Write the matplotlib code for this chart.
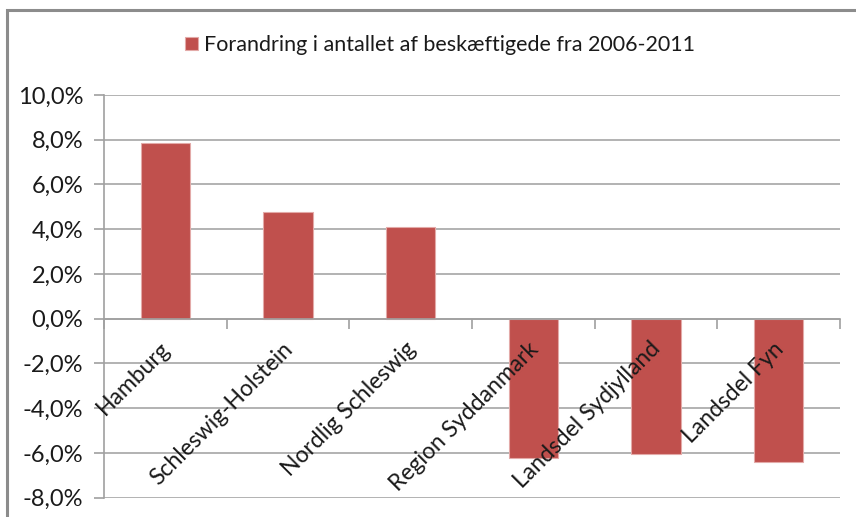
import matplotlib
matplotlib.use("Agg")
import matplotlib.pyplot as plt
from matplotlib.patches import Rectangle
from matplotlib.ticker import FuncFormatter, FixedLocator
from matplotlib.transforms import ScaledTranslation
import numpy as np

categories = ["Hamburg", "Schleswig-Holstein", "Nordlig Schleswig",
              "Region Syddanmark", "Landsdel Sydjylland", "Landsdel Fyn"]
values = [7.87, 4.77, 4.1, -6.22, -6.05, -6.42]
series_name = "Forandring i antallet af beskæftigede fra 2006-2011"
yticks = [-8, -6, -4, -2, 0, 2, 4, 6, 8, 10]

plt.rcParams['font.family'] = ['Lato', 'DejaVu Sans']

W, H = 856, 517
fig = plt.figure(figsize=(W / 100, H / 100), dpi=100)
fig.patch.set_facecolor("white")

# outer chart frame (partially visible)
fig.add_artist(Rectangle((7 / W, -0.1), 1.2, 1 - 10 / H + 0.1,
                         transform=fig.transFigure, fill=False,
                         edgecolor="#8c8c8c", linewidth=2.2))

ax = fig.add_axes([104 / W, 1 - 497.7 / H, (840 - 104) / W, (497.7 - 95) / H])
x = np.arange(len(categories))
ax.bar(x, values, width=0.4, color="#C0504D", edgecolor="#e3aaa8",
       linewidth=0.8, zorder=3, label=series_name)

ax.set_xlim(-0.5, len(categories) - 0.5)
ax.set_ylim(min(yticks), max(yticks))
ax.set_yticks(yticks)
ax.yaxis.set_major_formatter(FuncFormatter(lambda v, p: f"{v:.1f}%".replace(".", ",")))
ax.grid(axis="y", color="#a6a6a6", linewidth=1.2)
ax.set_axisbelow(True)
ax.xaxis.set_zorder(5)   # category labels drawn over the bars

for s in ["top", "right"]:
    ax.spines[s].set_visible(False)
ax.spines["left"].set_color("#a0a0a0")
ax.spines["left"].set_linewidth(1.2)
ax.spines["bottom"].set_position(("data", 0))
ax.spines["bottom"].set_color("#a0a0a0")
ax.spines["bottom"].set_linewidth(1.2)
ax.spines["bottom"].set_zorder(4)

ax.tick_params(axis="y", length=7, width=1.2, color="#a0a0a0",
               labelsize=17, pad=8, labelcolor="#1a1a1a")
ax.set_xticks(x)
ax.set_xticklabels(categories, rotation=45, ha="right", va="top",
                   rotation_mode="anchor", fontsize=16.5, color="#1a1a1a")
ax.tick_params(axis="x", which="major", length=0, pad=14)
shift = ScaledTranslation(-6 / 100, 0, fig.dpi_scale_trans)
for lab in ax.get_xticklabels():
    lab.set_transform(lab.get_transform() + shift)
ax.xaxis.set_minor_locator(FixedLocator(np.arange(-0.5, len(categories), 1.0)))
ax.tick_params(axis="x", which="minor", length=7, width=1.2, color="#a0a0a0",
               direction="out")

leg = fig.legend(loc="center", bbox_to_anchor=(440 / W, 1 - 45 / H),
                 frameon=False, fontsize=15.5, handlelength=0.6,
                 handleheight=0.6, handletextpad=0.3)
for t in leg.get_texts():
    t.set_color("#1a1a1a")

fig.savefig("out.png", dpi=100, facecolor="white")
